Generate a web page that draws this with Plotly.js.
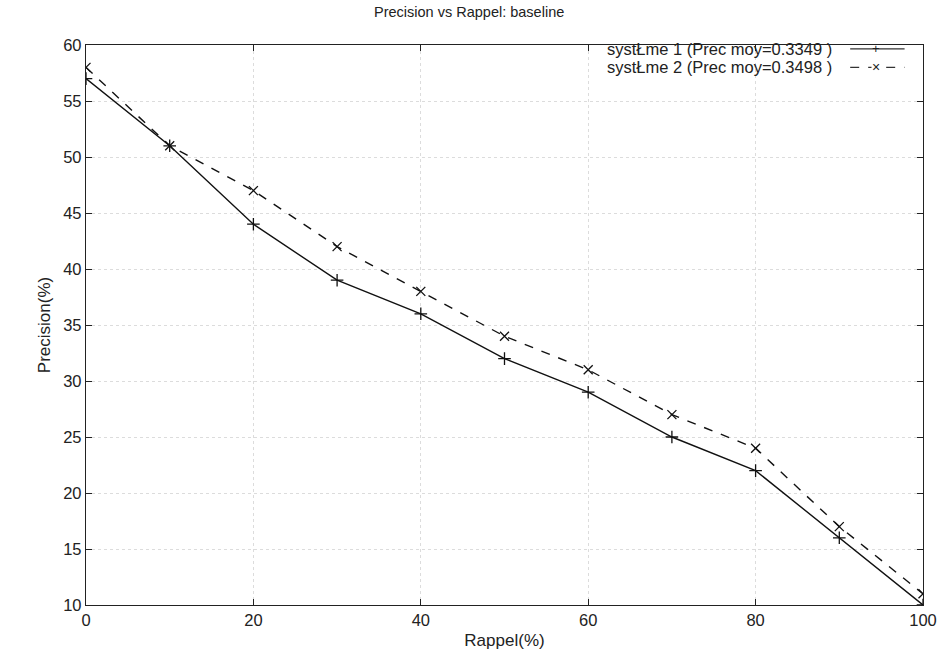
<!DOCTYPE html>
<html><head><meta charset="utf-8">
<script src="https://cdn.plot.ly/plotly-3.0.1.min.js"></script>
<style>body{margin:0;background:#fff}#chart{width:944px;height:667px}</style>
</head><body><div id="chart"></div>
<script>
const rappel = [0, 10, 20, 30, 40, 50, 60, 70, 80, 90, 100];
const systeme1 = [57, 51, 44, 39, 36, 32, 29, 25, 22, 16, 10];
const systeme2 = [58, 51, 47, 42, 38, 34, 31, 27, 24, 17, 11];
const names = ["systŁme 1 (Prec moy=0.3349 )", "systŁme 2 (Prec moy=0.3498 )"];
const xTicks = [0, 20, 40, 60, 80, 100];
const yTicks = [10, 15, 20, 25, 30, 35, 40, 45, 50, 55, 60];

const font = {family: "Liberation Sans, Arial, sans-serif", color: "#222"};
const traces = [
  {x: rappel, y: systeme1, name: names[0], mode: "lines+markers",
   line: {color: "#111", width: 1.4},
   marker: {symbol: "cross-thin", size: 9, line: {color: "#111", width: 1.3}}},
  {x: rappel, y: systeme2, name: names[1], mode: "lines+markers",
   line: {color: "#111", width: 1.4, dash: "dash"},
   marker: {symbol: "x-thin", size: 9, line: {color: "#111", width: 1.3}}}
];
const axisCommon = {
  showline: true, linecolor: "#222", linewidth: 1.3, mirror: "ticks",
  ticks: "inside", ticklen: 6, tickcolor: "#222",
  showgrid: true, gridcolor: "#dcdcdc", griddash: "dot", gridwidth: 1,
  zeroline: false, tickfont: {size: 16.5, ...font}
};
const layout = {
  width: 944, height: 667,
  margin: {l: 86, r: 21, t: 45, b: 62},
  paper_bgcolor: "#fff", plot_bgcolor: "#fff",
  showlegend: false,
  title: {text: "Precision vs Rappel: baseline", x: 0.497, xanchor: "center", y: 0.99, yanchor: "top",
          font: {size: 14.5, ...font}},
  xaxis: {...axisCommon, range: [0, 100], tickvals: xTicks, ticktext: xTicks.map(String),
          title: {text: "Rappel(%)", font: {size: 17, ...font}, standoff: 6}},
  yaxis: {...axisCommon, range: [10, 60], tickvals: yTicks, ticktext: yTicks.map(String),
          title: {text: "Precision(%)", font: {size: 17, ...font}, standoff: 8}},
  annotations: [
    {xref: "paper", yref: "paper", x: 0.893, y: 0.993, xanchor: "right", yanchor: "middle",
     text: names[0], showarrow: false, font: {size: 16.5, ...font}, borderpad: 0},
    {xref: "paper", yref: "paper", x: 0.893, y: 0.960, xanchor: "right", yanchor: "middle",
     text: names[1], showarrow: false, font: {size: 16.5, ...font}, borderpad: 0}
  ],
  shapes: [
    {type: "line", xref: "paper", yref: "paper", x0: 0.913, x1: 0.978, y0: 0.993, y1: 0.993,
     line: {color: "#333", width: 1.2}},
    {type: "line", xref: "paper", yref: "paper", x0: 0.913, x1: 0.978, y0: 0.960, y1: 0.960,
     line: {color: "#333", width: 1.2, dash: "dash"}}
  ]
};
// legend marker glyphs drawn as annotations
layout.annotations.push(
  {xref: "paper", yref: "paper", x: 0.944, y: 0.993, xanchor: "center", yanchor: "middle",
   text: "+", showarrow: false, font: {size: 13, ...font}, borderpad: 0},
  {xref: "paper", yref: "paper", x: 0.944, y: 0.960, xanchor: "center", yanchor: "middle",
   text: "×", showarrow: false, font: {size: 14, ...font}, bgcolor: "#fff", borderpad: 0}
);
Plotly.newPlot("chart", traces, layout, {displayModeBar: false});
</script></body></html>
